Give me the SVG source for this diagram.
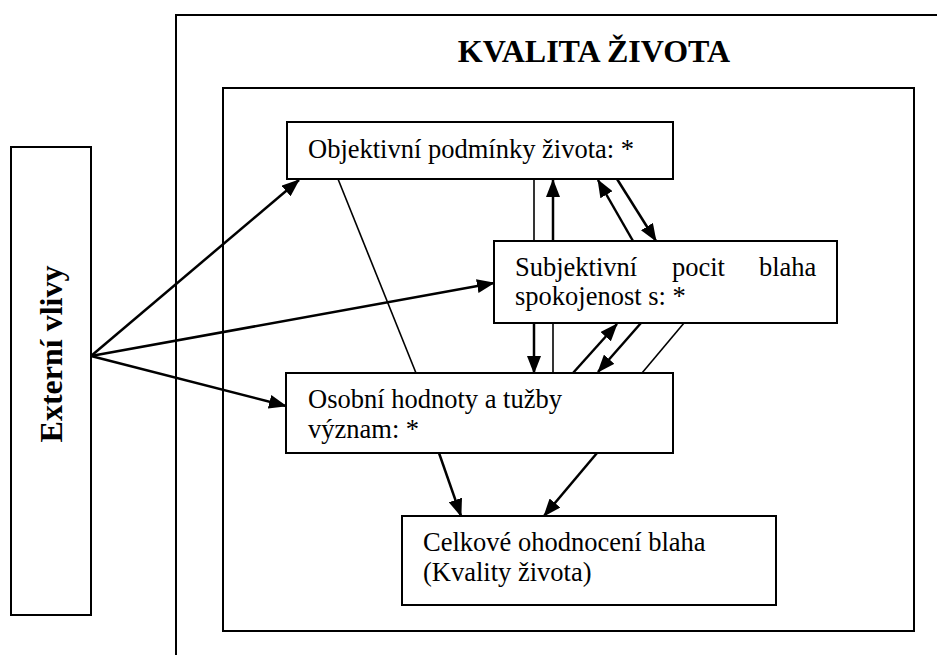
<svg xmlns="http://www.w3.org/2000/svg" width="937" height="655" viewBox="0 0 937 655">
<style>
.box{fill:#fff;stroke:#000;stroke-width:2}
.frame{fill:none;stroke:#000;stroke-width:2}
.t{font-family:"Liberation Serif","Times New Roman",serif;font-size:26.5px;fill:#000}
.tb{font-family:"Liberation Serif","Times New Roman",serif;font-size:32px;font-weight:bold;fill:#000}
.arr{stroke:#000;stroke-width:2.5;fill:none;marker-end:url(#ah)}
.ln{stroke:#000;stroke-width:1.6;fill:none}
</style>
<defs>
<marker id="ah" markerUnits="userSpaceOnUse" markerWidth="18" markerHeight="14" refX="17" refY="7" orient="auto">
<path d="M0,0 L18,7 L0,14 z" fill="#000"/>
</marker>
</defs>
<rect width="937" height="655" fill="#fff"/>
<g id="outer">
<path class="frame" d="M176,660 V15 H945"/>
<text class="tb" x="594" y="62" text-anchor="middle">KVALITA ŽIVOTA</text>
</g>
<g id="inner"><rect class="frame" x="223" y="88" width="691" height="543"/></g>
<g id="externi">
<rect class="box" x="11" y="147" width="80" height="468"/>
<text class="tb" transform="translate(62,354) rotate(-90)" text-anchor="middle">Externí vlivy</text>
</g>
<g id="connectors">
<line class="arr" x1="91" y1="356" x2="299" y2="180"/>
<line class="arr" x1="91" y1="356" x2="494" y2="283"/>
<line class="arr" x1="91" y1="356" x2="286" y2="406"/>
<line class="ln" x1="338" y1="179" x2="416" y2="373"/>
<line class="ln" x1="534" y1="179" x2="534" y2="241"/>
<line class="arr" x1="553" y1="241" x2="553" y2="180"/>
<line class="arr" x1="633" y1="241" x2="598" y2="180"/>
<line class="arr" x1="617" y1="179" x2="656" y2="241"/>
<line class="arr" x1="534" y1="323" x2="534" y2="373"/>
<line class="ln" x1="553" y1="323" x2="553" y2="373"/>
<line class="arr" x1="573" y1="373" x2="617" y2="324"/>
<line class="arr" x1="641" y1="323" x2="598" y2="372"/>
<line class="ln" x1="684" y1="323" x2="642" y2="373"/>
<line class="arr" x1="439" y1="453" x2="461" y2="516"/>
<line class="arr" x1="597" y1="453" x2="544" y2="516"/>
</g>
<g id="objektivni">
<rect class="box" x="287" y="122" width="386" height="57"/>
<text class="t" x="308" y="158">Objektivní podmínky života: *</text>
</g>
<g id="subjektivni">
<rect class="box" x="494" y="241" width="343" height="82"/>
<text class="t" y="276"><tspan x="515">Subjektivní</tspan><tspan x="672">pocit</tspan><tspan x="759">blaha</tspan></text>
<text class="t" x="515" y="305">spokojenost s: *</text>
</g>
<g id="osobni">
<rect class="box" x="286" y="373" width="387" height="80"/>
<text class="t" x="308" y="408">Osobní hodnoty a tužby</text>
<text class="t" x="308" y="438">význam: *</text>
</g>
<g id="celkove">
<rect class="box" x="402" y="516" width="374" height="89"/>
<text class="t" x="423" y="551">Celkové ohodnocení blaha</text>
<text class="t" x="423" y="581">(Kvality života)</text>
</g>
</svg>
